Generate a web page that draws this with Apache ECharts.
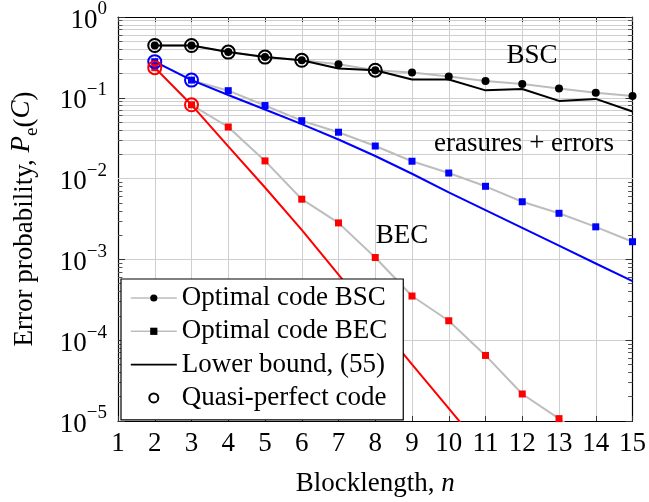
<!DOCTYPE html>
<html>
<head>
<meta charset="utf-8">
<script src="https://cdn.jsdelivr.net/npm/echarts@6/dist/echarts.min.js"></script>
<style>html,body{margin:0;padding:0;background:#fff}#c{width:649px;height:502px}</style>
</head>
<body>
<div id="c"></div>
<script>
// ---- data ----
const blocklength = [2,3,4,5,6,7,8,9,10,11,12,13,14,15];
const bscOptimal = [0.444,0.444,0.368,0.319,0.291,0.260,0.2196,0.205,0.1833,0.161,0.148,0.1306,0.1158,0.1055];
const bscBound   = [0.444,0.444,0.368,0.319,0.291,0.230,0.2196,0.1684,0.1684,0.1236,0.1285,0.0916,0.0969,0.0678];
const eeOptimal  = [0.28,0.1656,0.1225,0.0802,0.0521,0.0375,0.0253,0.0164,0.01172,0.00803,0.00517,0.00372,0.00253,0.001656];
const eeBound    = [0.28,0.1656,0.1084,0.0716,0.0473,0.0305,0.01905,0.01148,0.00676,0.00407,0.00245,0.00148,0.00089,0.000537];
const becBlock   = [2,3,4,5,6,7,8,9,10,11,12,13,14];
const becOptimal = [0.236,0.0819,0.0435,0.01656,0.00556,0.00283,0.001055,3.52e-4,1.74e-4,6.48e-5,2.16e-5,1.07e-5,5.0e-6];
const becBoundN  = [2,3,4,5,6,7,8,9,10,11];
const becBound   = [0.236,0.0818,0.0251,0.00776,0.00232,6.46e-4,1.80e-4,5.01e-5,1.43e-5,4.07e-6];
const quasiBSC = [2,3,4,5,6,8];
const quasiEE  = [2,3];
const quasiBEC = [2,3];
const legendNames = ['Optimal code BSC','Optimal code BEC','Lower bound, (55)','Quasi-perfect code'];
const annotations = [
  {text:'BSC', x:532, y:56},
  {text:'erasures + errors', x:524, y:144},
  {text:'BEC', x:402, y:236}
];

// ---- helpers ----
const pair = (xs, ys) => xs.map((x,i)=>[x, ys[i]]);
const FONT = 'Liberation Serif, Times New Roman, serif';
const GRAY = '#bdbdbd';
function pick(list, xs, ys){ return list.map(n => [n, ys[xs.indexOf(n)]]); }

const minorVals = [];
for (let k=-5;k<0;k++) for (let d=2; d<=9; d++) minorVals.push(d*Math.pow(10,k));
const minorGrid = minorVals.map(v => ({yAxis:v}));
const minorTicks = [];
minorVals.forEach(v => {
  minorTicks.push([{coord:[1,v]},{coord:[1.12,v]}]);
  minorTicks.push([{coord:[14.88,v]},{coord:[15,v]}]);
});

const sup = v => {
  const e = Math.round(Math.log10(v));
  return '{b|10}{s|' + (e<0 ? '\u2212'+(-e) : e) + '}';
};

const chart = echarts.init(document.getElementById('c'), null, {renderer:'canvas'});
const option = {
  animation:false,
  backgroundColor:'#fff',
  grid:{left:115, right:12.3, top:14.5, bottom:79, containLabel:false},
  xAxis:[{
    type:'value', min:1, max:15, interval:1, position:'bottom',
    axisLine:{show:true, onZero:false, lineStyle:{color:'#000', width:1.2}},
    axisTick:{show:true, inside:true, length:5, lineStyle:{color:'#333'}},
    axisLabel:{margin:9, fontFamily:FONT, fontSize:27, color:'#000'},
    splitLine:{show:true, lineStyle:{color:'#cfcfcf', width:1}},
    name:'Blocklength, {i|n}', nameLocation:'middle', nameGap:49,
    nameTextStyle:{fontFamily:FONT, fontSize:27, color:'#000', rich:{i:{fontFamily:FONT, fontSize:27, fontStyle:'italic'}}}
  },{
    type:'value', min:1, max:15, interval:1, position:'top',
    axisLine:{show:true, onZero:false, lineStyle:{color:'#000', width:1.2}},
    axisTick:{show:true, inside:true, length:5, lineStyle:{color:'#333'}},
    axisLabel:{show:false}, splitLine:{show:false}
  }],
  yAxis:[{
    type:'log', logBase:10, min:1e-5, max:1, position:'left',
    axisLine:{show:true, onZero:false, lineStyle:{color:'#000', width:1.2}},
    axisTick:{show:true, inside:true, length:7, lineStyle:{color:'#333'}},
    splitLine:{show:true, lineStyle:{color:'#cfcfcf', width:1}},
    axisLabel:{margin:11, formatter:sup, color:'#000',
      rich:{b:{fontFamily:FONT, fontSize:27, lineHeight:34, verticalAlign:'bottom'},
            s:{fontFamily:FONT, fontSize:19, lineHeight:20, verticalAlign:'top'}}},
    name:'Error probability, {i|P}{sub|e}({i|C})', nameLocation:'middle', nameRotate:90, nameGap:76,
    nameTextStyle:{fontFamily:FONT, fontSize:27, color:'#000',
      rich:{i:{fontFamily:FONT, fontSize:27, fontStyle:'italic', lineHeight:34, verticalAlign:'top'},
            sub:{fontFamily:FONT, fontSize:19, lineHeight:24, verticalAlign:'bottom'}}}
  },{
    type:'log', logBase:10, min:1e-5, max:1, position:'right',
    axisLine:{show:true, onZero:false, lineStyle:{color:'#000', width:1.2}},
    axisTick:{show:true, inside:true, length:7, lineStyle:{color:'#333'}},
    axisLabel:{show:false}, splitLine:{show:false}
  }],
  legend:{
    data:[
      {name:legendNames[0], itemStyle:{color:'#000', opacity:1}, lineStyle:{color:GRAY, width:1.6}},
      {name:legendNames[1], itemStyle:{color:'#000', opacity:1}, lineStyle:{color:GRAY, width:1.6}},
      {name:legendNames[2], itemStyle:{color:'rgba(0,0,0,0)', borderWidth:0}, lineStyle:{color:'#000', width:1.6}},
      {name:legendNames[3], itemStyle:{color:'rgba(0,0,0,0)', borderColor:'#000', borderWidth:2, opacity:1}}
    ],
    orient:'vertical', left:121, top:279,
    itemWidth:46, itemHeight:9, itemGap:3.3,
    padding:[4,16,7,9],
    backgroundColor:'#fff', borderColor:'#000', borderWidth:1.2, borderRadius:0,
    textStyle:{fontFamily:FONT, fontSize:27, color:'#000', lineHeight:30},
    selectedMode:false
  },
  graphic: annotations.map(a => ({type:'text', x:a.x, y:a.y, z:50,
    style:{text:a.text, fontFamily:FONT, fontSize:27, fill:'#000', textAlign:'center', textVerticalAlign:'middle'}})),
  series:[
    // grid decoration (minor decade lines and ticks)
    {type:'line', name:'_grid', data:[], silent:true,
      markLine:{silent:true, symbol:'none', z:1, label:{show:false}, animation:false,
        lineStyle:{color:'#cfcfcf', width:1, type:'solid'}, data:minorGrid}},
    {type:'line', name:'_ticks', data:[], silent:true,
      markLine:{silent:true, symbol:'none', z:1, label:{show:false}, animation:false,
        lineStyle:{color:'#555', width:1, type:'solid'}, data:minorTicks}},
    // optimal code lines (gray)
    {type:'line', name:'bscOpt', data:pair(blocklength,bscOptimal), symbol:'none', z:2,
      lineStyle:{color:GRAY, width:2}},
    {type:'line', name:'eeOpt', data:pair(blocklength,eeOptimal), symbol:'none', z:2,
      lineStyle:{color:GRAY, width:2}},
    {type:'line', name:'becOpt', data:pair(becBlock,becOptimal), symbol:'none', z:2,
      lineStyle:{color:GRAY, width:2}},
    // lower bounds
    {type:'line', name:'bscLB', data:pair(blocklength,bscBound), symbol:'none', z:3,
      lineStyle:{color:'#000', width:2}},
    {type:'line', name:'eeLB', data:pair(blocklength,eeBound), symbol:'none', z:3,
      lineStyle:{color:'#0000ff', width:2}},
    {type:'line', name:'becLB', data:pair(becBoundN,becBound), symbol:'none', z:3,
      lineStyle:{color:'#ff0000', width:2}},
    // markers
    {type:'scatter', name:'bscPts', data:pair(blocklength,bscOptimal), symbol:'circle', symbolSize:8, z:5,
      itemStyle:{color:'#000', opacity:1}},
    {type:'scatter', name:'eePts', data:pair(blocklength,eeOptimal), symbol:'rect', symbolSize:7, z:5,
      itemStyle:{color:'#0000ff', opacity:1}},
    {type:'scatter', name:'becPts', data:pair(becBlock,becOptimal), symbol:'rect', symbolSize:7, z:5,
      itemStyle:{color:'#ff0000', opacity:1}},
    // quasi-perfect circles
    {type:'scatter', name:'qBSC', data:pick(quasiBSC,blocklength,bscOptimal), symbol:'circle', symbolSize:13, z:6,
      itemStyle:{color:'rgba(0,0,0,0)', borderColor:'#000', borderWidth:2, opacity:1}},
    {type:'scatter', name:'qEE', data:pick(quasiEE,blocklength,eeOptimal), symbol:'circle', symbolSize:13, z:6,
      itemStyle:{color:'rgba(0,0,0,0)', borderColor:'#0000ff', borderWidth:2, opacity:1}},
    {type:'scatter', name:'qBEC', data:pick(quasiBEC,becBlock,becOptimal), symbol:'circle', symbolSize:13, z:6,
      itemStyle:{color:'rgba(0,0,0,0)', borderColor:'#ff0000', borderWidth:2, opacity:1}},
    // legend-only entries
    {type:'line', name:legendNames[0], data:[], symbol:'circle', lineStyle:{color:GRAY, width:2}, itemStyle:{color:'#000'}},
    {type:'line', name:legendNames[1], data:[], symbol:'rect', lineStyle:{color:GRAY, width:2}, itemStyle:{color:'#000'}},
    {type:'line', name:legendNames[2], data:[], symbol:'circle', lineStyle:{color:'#000', width:2}, itemStyle:{color:'rgba(0,0,0,0)'}},
    {type:'scatter', name:legendNames[3], data:[], symbol:'circle', itemStyle:{color:'rgba(0,0,0,0)', borderColor:'#000', borderWidth:2, opacity:1}}
  ]
};
chart.setOption(option);
</script>
</body>
</html>
